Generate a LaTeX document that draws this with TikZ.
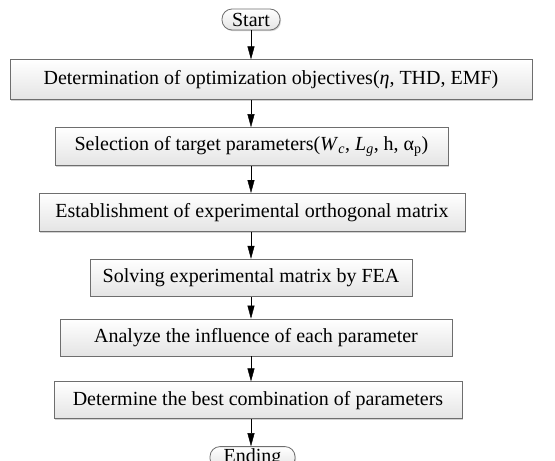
\documentclass[tikz,border=0pt]{standalone}
\usepackage{fontspec}
\setmainfont{Liberation Serif}
\usepackage{tikz}
\usetikzlibrary{arrows.meta,positioning,shadows}
\definecolor{FlowLine}{HTML}{6E6E6E}
\definecolor{FlowShade}{HTML}{E4E4E4}
\definecolor{FlowShadow}{HTML}{B4B4B4}

\begin{document}
\begin{tikzpicture}[x=1pt,y=1pt,node distance=27pt]
    \tikzset{blk/.style={draw=FlowLine,line width=0.8pt,top color=white,bottom color=FlowShade,
      minimum height=38pt,inner sep=0pt,align=center,font=\fontsize{20}{23}\selectfont,
      drop shadow={shadow xshift=1pt,shadow yshift=-1.2pt,fill=FlowShadow,opacity=0.6}},
      term/.style={blk,rounded corners=10pt,minimum height=21pt}}
    \useasboundingbox (0,0) rectangle (555,-461);
    \node[term,minimum width=58pt] (start) at (251,-19.5) {Start};
    \node[blk,minimum width=522pt,minimum height=40pt,below=29pt of start,xshift=20pt] (obj) {Determination of optimization objectives(\textit{η}, THD, EMF)};
    \node[blk,minimum width=393pt,below=of obj,xshift=-19.5pt] (sel) {Selection of target parameters(\textit{W}\textsubscript{\textit{c}}, \textit{L}\textsubscript{\textit{g}}, h, α\textsubscript{p})};
    \node[blk,minimum width=426pt,below=of sel,xshift=0.5pt] (ortho) {Establishment of experimental orthogonal matrix};
    \node[blk,minimum width=322pt,minimum height=37pt,below=of ortho,xshift=-1pt] (fea) {Solving experimental matrix by FEA};
    \node[blk,minimum width=392pt,minimum height=37pt,below=22pt of fea,xshift=5pt] (infl) {Analyze the influence of each parameter};
    \node[blk,minimum width=408pt,minimum height=37pt,below=25pt of infl,xshift=2pt] (best) {Determine the best combination of parameters};
    \node[term,minimum width=85pt,minimum height=22pt,below=of best,xshift=-5.5pt] (ending) {Ending};
    \draw[-{Triangle[length=13pt,width=7pt]}] (start.south) -- (obj.north -| start.south);
    \draw[-{Triangle[length=13pt,width=7pt]}] (obj.south -| start.south) -- (sel.north -| start.south);
    \draw[-{Triangle[length=13pt,width=7pt]}] (sel.south -| start.south) -- (ortho.north -| start.south);
    \draw[-{Triangle[length=13pt,width=7pt]}] (ortho.south -| start.south) -- (fea.north -| start.south);
    \draw[-{Triangle[length=13pt,width=7pt]}] (fea.south -| start.south) -- (infl.north -| start.south);
    \draw[-{Triangle[length=13pt,width=7pt]}] (infl.south -| start.south) -- (best.north -| start.south);
    \draw[-{Triangle[length=13pt,width=7pt]}] (best.south -| start.south) -- (ending.north -| start.south);
  \end{tikzpicture}
\end{document}
